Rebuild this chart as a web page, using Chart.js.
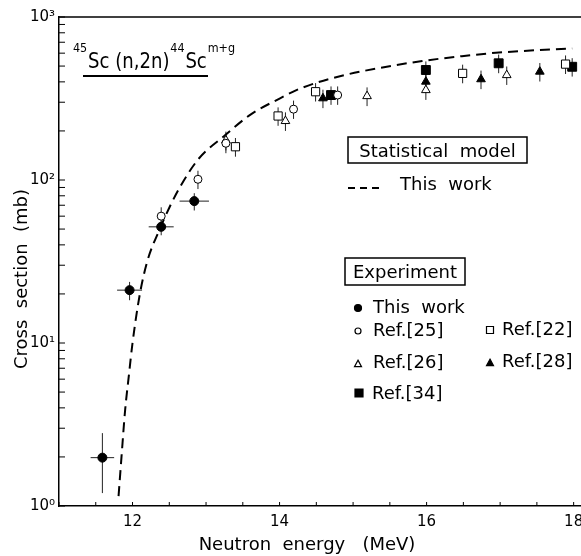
<!DOCTYPE html>
<html lang="en">
<head>
  <meta charset="UTF-8">
  <title>45Sc(n,2n)44Sc cross section</title>
  <script src="https://cdn.jsdelivr.net/npm/chart.js"></script>
  <style>
    body {
      margin: 0;
      background: #ffffff;
    }
    #wrap {
      width: 581px;
      height: 556px;
    }
  </style>
</head>
<body>
  <div id="wrap">
    <canvas id="chart" width="581" height="556"></canvas>
  </div>

  <script>
    // Statistical model (dashed curve)
    const modelE  = [11.81, 11.85, 11.90, 11.95, 12.0, 12.1, 12.2, 12.37, 12.5, 12.66, 12.9, 13.27, 13.6, 14.0, 14.3, 14.9, 15.4, 15.94, 16.48, 16.94, 17.53, 17.98];
    const modelXS = [1.15, 2.0, 3.9, 6.3, 10, 20, 31.6, 50, 67.6, 93, 135, 190, 251, 316, 367, 442, 490, 537, 575, 603, 627, 640];

    // This work (filled circles) with x and y error bars
    const thisE    = [11.59, 11.96, 12.39, 12.84];
    const thisXS   = [1.98, 21.1, 51.6, 74.2];
    const thisEErr = [0.16, 0.17, 0.17, 0.2];
    const thisXSLo = [1.2, 18.3, 45.8, 65];
    const thisXSHi = [2.8, 23.7, 56.5, 83];

    // Ref.[25] open circles
    const ref25E   = [12.39, 12.89, 13.27, 14.19, 14.79];
    const ref25XS  = [60, 101, 168, 272, 332];
    const ref25Err = [8, 13, 22, 35, 43];

    // Ref.[22] open squares
    const ref22E   = [13.40, 13.98, 14.49, 16.49, 17.89];
    const ref22XS  = [160, 247, 348, 451, 514];
    const ref22Err = [21, 32, 45, 59, 67];

    // Ref.[26] open triangles
    const ref26E   = [13.27, 14.08, 15.19, 15.99, 17.09];
    const ref26XS  = [175, 230, 327, 356, 440];
    const ref26Err = [23, 30, 43, 46, 57];

    // Ref.[28] filled triangles
    const ref28E   = [14.59, 15.99, 16.74, 17.54];
    const ref28XS  = [317, 401, 415, 462];
    const ref28Err = [41, 52, 54, 60];

    // Ref.[34] filled squares
    const ref34E   = [14.70, 15.99, 16.98, 17.98];
    const ref34XS  = [332, 473, 520, 495];
    const ref34Err = [43, 61, 68, 64];

    const xTickValues = [11, 11.5, 12, 12.5, 13, 13.5, 14, 14.5, 15, 15.5, 16, 16.5, 17, 17.5, 18];
    const xTickLabels = { 12: '12', 14: '14', 16: '16', 18: '18' };
    const yTickLabels = { 1: '10\u2070', 10: '10\u00b9', 100: '10\u00b2', 1000: '10\u00b3' };

    const FONT = "'DejaVu Sans', sans-serif";

    function pts(xs, ys) {
      return xs.map((x, i) => ({ x: x, y: ys[i] }));
    }

    function marker(ctx, style, filled, r, x, y) {
      ctx.save();
      ctx.beginPath();
      if (style === 'circle') {
        ctx.arc(x, y, r, 0, Math.PI * 2);
      } else if (style === 'rect') {
        ctx.rect(x - r, y - r, 2 * r, 2 * r);
      } else {
        ctx.moveTo(x, y - r * 1.1);
        ctx.lineTo(x + r, y + r * 0.75);
        ctx.lineTo(x - r, y + r * 0.75);
        ctx.closePath();
      }
      ctx.fillStyle = filled ? '#000' : '#fff';
      ctx.strokeStyle = '#000';
      ctx.lineWidth = 1.2;
      ctx.fill();
      ctx.stroke();
      ctx.restore();
    }

    // error bars, drawn under the markers
    const errorBars = {
      id: 'errorBars',
      beforeDatasetsDraw(chart) {
        const ctx = chart.ctx;
        const xs = chart.scales.x, ys = chart.scales.y;
        ctx.save();
        ctx.strokeStyle = '#222';
        ctx.lineWidth = 1;
        chart.data.datasets.forEach(ds => {
          ds.data.forEach((p, i) => {
            const px = xs.getPixelForValue(p.x);
            const py = ys.getPixelForValue(p.y);
            let lo = null, hi = null;
            if (ds.errLo) { lo = ds.errLo[i]; hi = ds.errHi[i]; }
            else if (ds.errY) { lo = p.y - ds.errY[i]; hi = p.y + ds.errY[i]; }
            if (lo !== null) {
              ctx.beginPath();
              ctx.moveTo(px, ys.getPixelForValue(lo));
              ctx.lineTo(px, ys.getPixelForValue(hi));
              ctx.stroke();
            }
            if (ds.errX) {
              ctx.beginPath();
              ctx.moveTo(xs.getPixelForValue(p.x - ds.errX[i]), py);
              ctx.lineTo(xs.getPixelForValue(p.x + ds.errX[i]), py);
              ctx.stroke();
            }
          });
        });
        ctx.restore();
      }
    };

    // top frame line, inward tick marks and energy labels
    const frame = {
      id: 'frame',
      afterDraw(chart) {
        const ctx = chart.ctx;
        const a = chart.chartArea;
        const xs = chart.scales.x, ys = chart.scales.y;
        ctx.save();
        ctx.strokeStyle = '#000';
        ctx.fillStyle = '#000';
        ctx.lineWidth = 1.5;
        ctx.beginPath();
        ctx.moveTo(a.left, a.top);
        ctx.lineTo(a.right, a.top);
        ctx.stroke();
        ctx.lineWidth = 1;
        ctx.font = '15px ' + FONT;
        ctx.textAlign = 'center';
        ctx.textBaseline = 'top';
        xs.ticks.forEach(t => {
          const px = xs.getPixelForValue(t.value);
          ctx.beginPath();
          ctx.moveTo(px, a.bottom);
          ctx.lineTo(px, a.bottom - 4);
          ctx.stroke();
          if (xTickLabels[t.value]) ctx.fillText(xTickLabels[t.value], px, a.bottom + 9);
        });
        ys.ticks.forEach(t => {
          const py = ys.getPixelForValue(t.value);
          ctx.beginPath();
          ctx.moveTo(a.left, py);
          ctx.lineTo(a.left + 6, py);
          ctx.stroke();
        });
        ctx.restore();
      }
    };

    // text annotations: reaction label, legends, axis titles
    const annotations = {
      id: 'annotations',
      afterDraw(chart) {
        const ctx = chart.ctx;
        ctx.save();
        ctx.fillStyle = '#000';
        ctx.strokeStyle = '#000';
        ctx.textBaseline = 'alphabetic';
        ctx.textAlign = 'left';

        // reaction label with superscripts (slightly condensed)
        const parts = [
          { t: '45', sup: true }, { t: 'Sc (n,2n)' },
          { t: '44', sup: true }, { t: 'Sc' }, { t: 'm+g', sup: true }
        ];
        ctx.save();
        ctx.translate(73, 0);
        ctx.scale(0.86, 1);
        let x = 0;
        parts.forEach(p => {
          ctx.font = (p.sup ? '13px ' : '21px ') + FONT;
          ctx.fillText(p.t, x, p.sup ? 52 : 68);
          x += ctx.measureText(p.t).width + 1;
        });
        ctx.restore();
        ctx.lineWidth = 2;
        ctx.beginPath();
        ctx.moveTo(83, 76);
        ctx.lineTo(208, 76);
        ctx.stroke();

        // Statistical model box
        ctx.lineWidth = 1.5;
        ctx.strokeRect(348, 137, 179, 26);
        ctx.font = '18px ' + FONT;
        ctx.textAlign = 'center';
        ctx.fillText('Statistical  model', 437.5, 157);
        ctx.textAlign = 'left';
        ctx.fillText('This  work', 400, 190);
        ctx.lineWidth = 2;
        ctx.setLineDash([7, 5]);
        ctx.beginPath();
        ctx.moveTo(348, 188);
        ctx.lineTo(382, 188);
        ctx.stroke();
        ctx.setLineDash([]);

        // Experiment box
        ctx.lineWidth = 1.5;
        ctx.strokeRect(345, 258, 120, 27);
        ctx.textAlign = 'center';
        ctx.fillText('Experiment', 405, 278);
        ctx.textAlign = 'left';

        const entries = [
          { s: 'circle', f: true,  r: 3.5, mx: 358, my: 308, tx: 373, ty: 313, t: 'This  work' },
          { s: 'circle', f: false, r: 3,   mx: 358, my: 331, tx: 373, ty: 336, t: 'Ref.[25]' },
          { s: 'rect',   f: false, r: 3.5, mx: 490, my: 330, tx: 502, ty: 335, t: 'Ref.[22]' },
          { s: 'tri',    f: false, r: 3.5, mx: 358, my: 364, tx: 373, ty: 368, t: 'Ref.[26]' },
          { s: 'tri',    f: true,  r: 3.5, mx: 490, my: 363, tx: 502, ty: 367, t: 'Ref.[28]' },
          { s: 'rect',   f: true,  r: 4,   mx: 359, my: 393, tx: 372, ty: 399, t: 'Ref.[34]' }
        ];
        entries.forEach(e => {
          marker(ctx, e.s, e.f, e.r, e.mx, e.my);
          ctx.fillStyle = '#000';
          ctx.font = '18px ' + FONT;
          ctx.fillText(e.t, e.tx, e.ty);
        });

        // axis titles
        ctx.font = '18px ' + FONT;
        ctx.textAlign = 'center';
        ctx.fillText('Neutron  energy   (MeV)', 307, 550);
        ctx.translate(27, 279);
        ctx.rotate(-Math.PI / 2);
        ctx.fillText('Cross  section  (mb)', 0, 0);
        ctx.restore();
      }
    };

    const yTickValues = [];
    [1, 10, 100].forEach(d => {
      for (let m = 1; m < 10; m++) yTickValues.push(m * d);
    });
    yTickValues.push(1000);

    const ctx = document.getElementById('chart').getContext('2d');
    new Chart(ctx, {
      type: 'scatter',
      data: {
        datasets: [
          {
            label: 'This work',
            data: pts(thisE, thisXS),
            errLo: thisXSLo, errHi: thisXSHi, errX: thisEErr,
            pointStyle: 'circle', pointRadius: 4.5,
            backgroundColor: '#000', borderColor: '#000', borderWidth: 1
          },
          {
            label: 'Ref.[25]',
            data: pts(ref25E, ref25XS), errY: ref25Err,
            pointStyle: 'circle', pointRadius: 4,
            backgroundColor: '#fff', borderColor: '#000', borderWidth: 1
          },
          {
            label: 'Ref.[22]',
            data: pts(ref22E, ref22XS), errY: ref22Err,
            pointStyle: 'rect', pointRadius: 5.8,
            backgroundColor: '#fff', borderColor: '#000', borderWidth: 1
          },
          {
            label: 'Ref.[26]',
            data: pts(ref26E, ref26XS), errY: ref26Err,
            pointStyle: 'triangle', pointRadius: 5,
            backgroundColor: '#fff', borderColor: '#000', borderWidth: 1
          },
          {
            label: 'Ref.[28]',
            data: pts(ref28E, ref28XS), errY: ref28Err,
            pointStyle: 'triangle', pointRadius: 5,
            backgroundColor: '#000', borderColor: '#000', borderWidth: 1
          },
          {
            label: 'Ref.[34]',
            data: pts(ref34E, ref34XS), errY: ref34Err,
            pointStyle: 'rect', pointRadius: 6.3,
            backgroundColor: '#000', borderColor: '#000', borderWidth: 1
          },
          {
            label: 'Statistical model',
            type: 'line',
            data: pts(modelE, modelXS),
            showLine: true,
            borderColor: '#000', borderWidth: 2,
            borderDash: [10, 6],
            pointRadius: 0,
            cubicInterpolationMode: 'monotone',
            fill: false
          }
        ]
      },
      options: {
        responsive: false,
        animation: false,
        layout: { autoPadding: false, padding: { top: 17, right: 0, left: 0, bottom: 0 } },
        plugins: {
          legend: { display: false },
          tooltip: { enabled: false }
        },
        scales: {
          x: {
            type: 'linear',
            min: 11,
            max: 18.1,
            grid: { display: false, drawTicks: false },
            border: { display: true, color: '#000', width: 1.5 },
            afterBuildTicks: s => { s.ticks = xTickValues.map(v => ({ value: v })); },
            ticks: { display: false },
            afterFit: s => { s.height = 50; }
          },
          y: {
            type: 'logarithmic',
            min: 1,
            max: 1000,
            grid: { display: false, drawTicks: false },
            border: { display: true, color: '#000', width: 1.5 },
            afterBuildTicks: s => { s.ticks = yTickValues.map(v => ({ value: v })); },
            ticks: {
              autoSkip: false,
              padding: 4,
              color: '#000',
              font: { family: FONT, size: 15 },
              callback: v => yTickLabels[v] || ''
            },
            afterFit: s => { s.width = 59; }
          }
        }
      },
      plugins: [errorBars, frame, annotations]
    });
  </script>
</body>
</html>
